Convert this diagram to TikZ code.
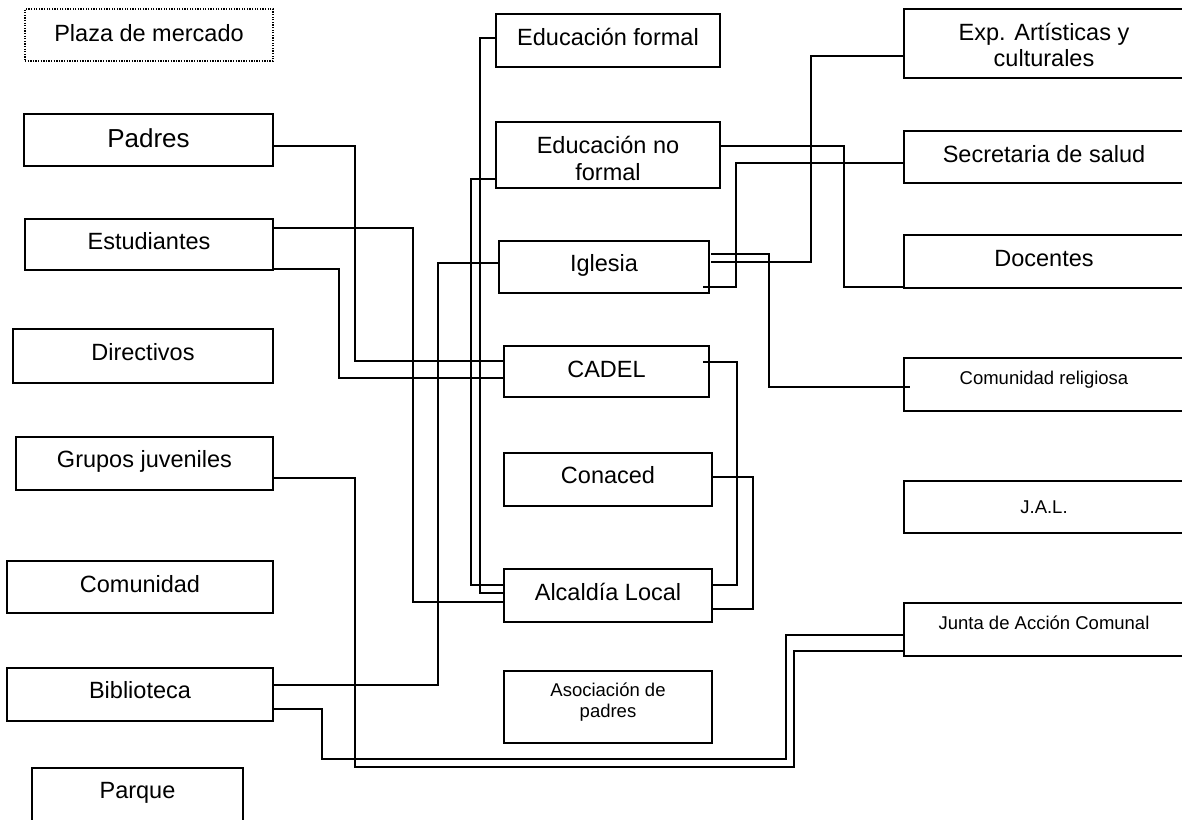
\documentclass[tikz,border=0pt]{standalone}
\usepackage{fontspec}
\setmainfont{Liberation Sans}
\usetikzlibrary{calc}
\begin{document}
\begin{tikzpicture}[x=1pt,y=-1pt,
  box/.style={draw, line width=1.7pt, inner sep=0pt, outer sep=0pt},
  sz/.style 2 args={minimum width=#1pt, minimum height=#2pt},
  dotbox/.style={box, line width=1.4pt, dash pattern=on 1.3pt off 1.3pt},
  txt/.style={inner sep=0pt, anchor=base, font=\fontsize{23.5}{27}\selectfont},
  bigtxt/.style={txt, font=\fontsize{26}{30}\selectfont},
  smalltxt/.style={txt, font=\fontsize{18.5}{22}\selectfont},
  conn/.style={line width=1.3pt, line join=miter}]
\useasboundingbox (0,0) rectangle (1182,819);
\clip (0,0) rectangle (1182,819);
\fill[white] (0,0) rectangle (1182,819);

% left column
\node[dotbox, sz={248}{52}] (plaza) at (149,35) {};
\node[txt] (plazat) at (149,41) {Plaza de mercado};
\node[box, sz={249}{52}] (padres) at (148.5,140) {};
\node[bigtxt] (padrest) at (148.5,147) {Padres};
\node[box, sz={248}{51}] (estud) at (149,244.5) {};
\node[txt] (estudt) at (149,249) {Estudiantes};
\node[box, sz={260}{54}] (direct) at (143,356) {};
\node[txt] (directt) at (143,360.5) {Directivos};
\node[box, sz={257}{53}] (grupos) at (144.5,463.5) {};
\node[txt] (grupost) at (144.5,467.5) {Grupos juveniles};
\node[box, sz={266}{52}] (comun) at (140,587) {};
\node[txt] (comunt) at (140,592) {Comunidad};
\node[box, sz={266}{53}] (biblio) at (140,694.5) {};
\node[txt] (bibliot) at (140,698.5) {Biblioteca};
\node[box, sz={211}{56}] (parque) at (137.5,796) {};
\node[txt] (parquet) at (137.5,798) {Parque};

% middle column
\node[box, sz={224}{53}] (edf) at (608,40.5) {};
\node[txt] (edft) at (608,45) {Educación formal};
\node[box, sz={224}{66}] (ednf) at (608,155) {};
\node[txt] (ednft1) at (608,153) {Educación no};
\node[txt] (ednft2) at (608,180) {formal};
\node[box, sz={210}{52}] (igl) at (604,267) {};
\node[txt] (iglt) at (604,271.5) {Iglesia};
\node[box, sz={205}{51}] (cadel) at (606.5,371.5) {};
\node[txt] (cadelt) at (606.5,377) {CADEL};
\node[box, sz={208}{53}] (conac) at (608,479.5) {};
\node[txt] (conact) at (608,483.5) {Conaced};
\node[box, sz={208}{53}] (alc) at (608,595.5) {};
\node[txt] (alct) at (608,600) {Alcaldía Local};
\node[box, sz={208}{72}] (asoc) at (608,707) {};
\node[smalltxt] (asoct1) at (608,696) {Asociación de};
\node[smalltxt] (asoct2) at (608,717) {padres};

% right column
\node[box, sz={280}{69}] (exp) at (1044,43.5) {};
\node[txt] (expt1) at (1044,40.5) {Exp. Artísticas y};
\node[txt] (expt2) at (1044,66) {culturales};
\node[box, sz={280}{52}] (sec) at (1044,157) {};
\node[txt] (sect) at (1044,162) {Secretaria de salud};
\node[box, sz={280}{53}] (doc) at (1044,261.5) {};
\node[txt] (doct) at (1044,266) {Docentes};
\node[box, sz={280}{53}] (comrel) at (1044,384.5) {};
\node[smalltxt] (comrelt) at (1044,384) {Comunidad religiosa};
\node[box, sz={280}{52}] (jal) at (1044,507) {};
\node[smalltxt] (jalt) at (1044,513) {J.A.L.};
\node[box, sz={280}{53}] (jac) at (1044,629.5) {};
\node[smalltxt] (jact) at (1044,629) {Junta de Acción Comunal};

% connectors
\draw[conn] (padres.east |- 0,146) -| (355,361) -- (cadel.west |- 0,361);
\draw[conn] (estud.east |- 0,228) -| (413,602) -- (alc.west |- 0,602);
\draw[conn] (estud.east |- 0,269) -| (339,378) -- (cadel.west |- 0,378);
\draw[conn] (edf.west |- 0,38) -| (480,593) -- (alc.west |- 0,593);
\draw[conn] (ednf.west |- 0,179) -| (471,585) -- (alc.west |- 0,585);
\draw[conn] (biblio.east |- 0,685) -| (438,263) -- (igl.west |- 0,263);
\draw[conn] (biblio.east |- 0,709) -| (322,759) -| (786,635) -- (jac.west |- 0,635);
\draw[conn] (grupos.east |- 0,478) -| (355,767) -| (794,651) -- (jac.west |- 0,651);
\draw[conn] (ednf.east |- 0,146) -| (844,287) -- (doc.west |- 0,287);
\draw[conn] ($(igl.east |- 0,287)+(-6,0)$) -| (736,163) -- (sec.west |- 0,163);
\draw[conn] ($(igl.east |- 0,262)+(2,0)$) -| (811,56) -- (exp.west |- 0,56);
\draw[conn] ($(igl.east |- 0,254)+(2,0)$) -| (769,387) -- ($(comrel.west |- 0,387)+(6,0)$);
\draw[conn] ($(cadel.east |- 0,362)+(-6,0)$) -| (737,585) -- (alc.east |- 0,585);
\draw[conn] (conac.east |- 0,477) -| (753,609) -- (alc.east |- 0,609);
\end{tikzpicture}
\end{document}
